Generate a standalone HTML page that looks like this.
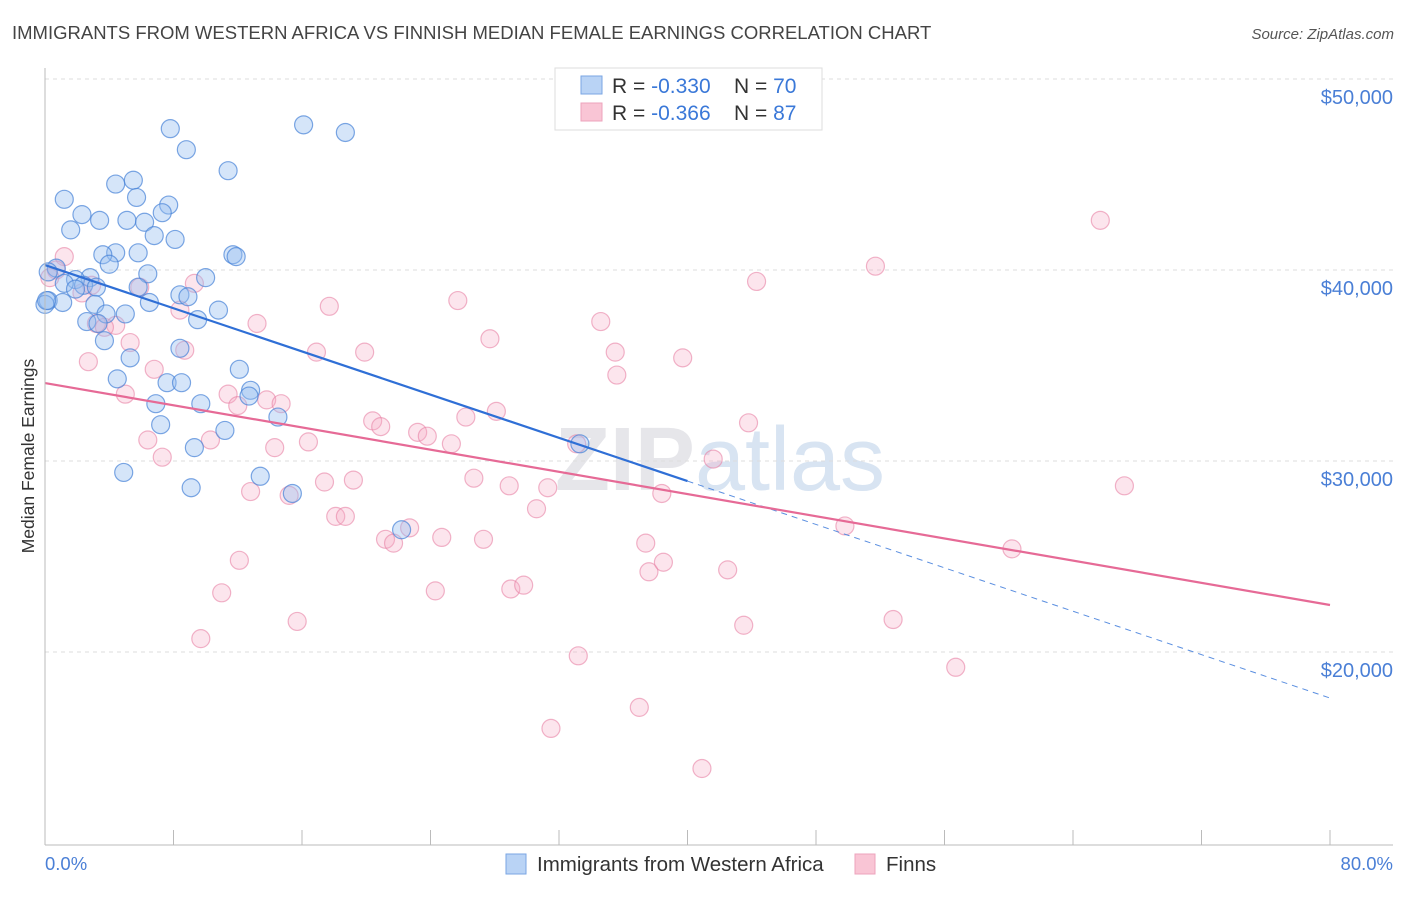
<!DOCTYPE html>
<html><head><meta charset="utf-8"><style>
body{margin:0;background:#fff;font-family:"Liberation Sans",sans-serif;}
svg text{font-family:"Liberation Sans",sans-serif;}
</style></head><body>
<svg id="chart" width="1406" height="892" xmlns="http://www.w3.org/2000/svg">
<text x="12" y="39" font-size="18.5" fill="#444">IMMIGRANTS FROM WESTERN AFRICA VS FINNISH MEDIAN FEMALE EARNINGS CORRELATION CHART</text>
<text x="1394" y="39" font-size="15" fill="#555" text-anchor="end" font-style="italic">Source: ZipAtlas.com</text>
<text x="720" y="490" font-size="90" fill="#e6e6ea" text-anchor="middle" font-weight="bold">ZIP<tspan fill="#d8e4f2" font-weight="normal">atlas</tspan></text>
<g id="grid"></g>
<g id="marks"></g>
<line x1="45" y1="68" x2="45" y2="845" stroke="#bbb"/>
<line x1="45" y1="845" x2="1393" y2="845" stroke="#bbb"/>
<text transform="translate(34,456) rotate(-90)" font-size="17.5" fill="#333" text-anchor="middle">Median Female Earnings</text>
<text x="45" y="870" font-size="18.5" fill="#4a7fd6">0.0%</text>
<text x="1393" y="870" font-size="18.5" fill="#4a7fd6" text-anchor="end">80.0%</text>
<g>
<rect x="555" y="68" width="267" height="62" fill="#fff" stroke="#ddd"/>
<rect x="581" y="76" width="21" height="18" fill="#b9d3f5" stroke="#7aa6e3"/>
<rect x="581" y="103" width="21" height="18" fill="#f9c5d5" stroke="#eda3bc"/>
<text x="612" y="93" font-size="21" fill="#333">R = <tspan fill="#3a78d8">-0.330</tspan><tspan x="734">N = </tspan><tspan fill="#3a78d8">70</tspan></text>
<text x="612" y="120" font-size="21" fill="#333">R = <tspan fill="#3a78d8"> -0.366</tspan><tspan x="734">N = </tspan><tspan fill="#3a78d8"> 87</tspan></text>
</g>
<g>
<rect x="506" y="854" width="20" height="20" fill="#b9d3f5" stroke="#7aa6e3"/>
<text x="537" y="871" font-size="20.5" fill="#333">Immigrants from Western Africa</text>
<rect x="855" y="854" width="20" height="20" fill="#f9c5d5" stroke="#eda3bc"/>
<text x="886" y="871" font-size="20.5" fill="#333">Finns</text>
</g>
</svg>
<script>
const yTicks=[20000,30000,40000,50000];
const yTickLabels=["$20,000","$30,000","$40,000","$50,000"];
const xTicks=[0,8,16,24,32,40,48,56,64,72,80];
const blueX=[7.8,16.1,18.7,8.8,11.4,1.2,4.4,5.5,5.7,7.7,7.3,2.3,3.4,5.1,6.2,1.6,6.8,8.1,4.4,3.6,5.8,11.7,11.9,4.0,0.7,0.2,2.8,6.4,1.9,10.0,1.2,2.4,3.2,5.8,1.9,8.4,8.9,0.2,1.1,6.5,3.1,3.8,5.0,10.8,9.5,2.6,3.3,3.7,5.3,8.4,12.1,4.5,7.6,8.5,12.8,12.7,6.9,9.7,14.5,7.2,11.2,9.3,33.3,4.9,13.4,9.1,15.4,22.2,0.0,0.1];
const blueY=[47.4,47.6,47.2,46.3,45.2,43.7,44.5,44.7,43.8,43.4,43.0,42.9,42.6,42.6,42.5,42.1,41.8,41.6,40.9,40.8,40.9,40.8,40.7,40.3,40.1,39.9,39.6,39.8,39.5,39.6,39.3,39.2,39.1,39.1,39.0,38.7,38.6,38.4,38.3,38.3,38.2,37.7,37.7,37.9,37.4,37.3,37.2,36.3,35.4,35.9,34.8,34.3,34.1,34.1,33.7,33.4,33.0,33.0,32.3,31.9,31.6,30.7,30.9,29.4,29.2,28.6,28.3,26.4,38.2,38.4];
const pinkX=[1.2,0.7,0.3,2.9,2.3,5.9,9.3,8.4,17.7,25.7,13.2,3.2,4.4,3.7,5.3,8.7,16.9,19.9,27.7,34.6,35.5,35.6,39.7,44.3,51.7,65.7,2.7,6.8,5.0,11.4,12.0,13.8,14.7,20.4,20.9,26.2,28.1,23.2,23.8,25.3,33.1,43.8,6.4,10.3,16.4,14.3,7.3,41.6,26.7,17.4,19.2,12.8,15.2,28.9,31.3,38.4,67.2,30.6,18.1,18.7,21.2,21.7,22.7,24.7,27.3,37.4,49.8,60.2,12.1,37.6,38.5,42.5,29.0,29.8,24.3,11.0,15.7,43.5,52.8,9.7,33.2,56.7,37.0,31.5,40.9];
const pinkY=[40.7,40.0,39.6,39.2,38.8,39.1,39.3,37.9,38.1,38.4,37.2,37.2,37.1,37.0,36.2,35.8,35.7,35.7,36.4,37.3,35.7,34.5,35.4,39.4,40.2,42.6,35.2,34.8,33.5,33.5,32.9,33.2,33.0,32.1,31.8,32.3,32.6,31.5,31.3,30.9,30.9,32.0,31.1,31.1,31.0,30.7,30.2,30.1,29.1,28.9,29.0,28.4,28.2,28.7,28.6,28.3,28.7,27.5,27.1,27.1,25.9,25.7,26.5,26.0,25.9,25.7,26.6,25.4,24.8,24.2,24.7,24.3,23.3,23.5,23.2,23.1,21.6,21.4,21.7,20.7,19.8,19.2,17.1,16.0,13.9];
const blueFit=[40.26,28.95,17.59]; // values at x=0,40,80
const pinkFit=[34.08,22.46]; // values at x=0,80
const NS="http://www.w3.org/2000/svg";
const xs=v=>45+v/80*1285;
const ys=v=>270-(v-40000)*0.0191;
const grid=document.getElementById('grid'), marks=document.getElementById('marks');
function mk(tag,attrs,parent){const e=document.createElementNS(NS,tag);for(const k in attrs)e.setAttribute(k,attrs[k]);parent.appendChild(e);return e;}
yTicks.forEach((t,i)=>{
 const l=mk('line',{x1:45,x2:1393,y1:ys(t),y2:ys(t),stroke:'#ddd','stroke-dasharray':'4,4'},grid);
 
 
 const tx=mk('text',{x:1393,y:ys(t)+25,'font-size':20,fill:'#4a7fd6','text-anchor':'end'},grid);
 tx.textContent=yTickLabels[i];
 
 
});
xTicks.forEach(t=>{
 const l=mk('line',{x1:xs(t),x2:xs(t),y1:830,y2:845,stroke:'#bbb'},grid);
 
 
});
pinkX.forEach((x,i)=>{
 const c=mk('circle',{cx:xs(x),cy:ys(pinkY[i]*1000),r:9,fill:'rgba(246,170,196,0.3)',stroke:'rgba(232,130,165,0.6)','stroke-width':1.2},marks);
 
 
});
blueX.forEach((x,i)=>{
 const c=mk('circle',{cx:xs(x),cy:ys(blueY[i]*1000),r:9,fill:'rgba(150,190,240,0.4)',stroke:'rgba(70,130,215,0.7)','stroke-width':1.2},marks);
 
 
});
let l=mk('line',{x1:xs(0),y1:ys(blueFit[0]*1000),x2:xs(40),y2:ys(blueFit[1]*1000),stroke:'#2f6fd6','stroke-width':2.2},marks);


l=mk('line',{x1:xs(40),y1:ys(blueFit[1]*1000),x2:xs(80),y2:ys(blueFit[2]*1000),stroke:'#5b8fe0','stroke-width':1,'stroke-dasharray':'6,5'},marks);


l=mk('line',{x1:xs(0),y1:ys(pinkFit[0]*1000),x2:xs(80),y2:ys(pinkFit[1]*1000),stroke:'#e66a96','stroke-width':2.2},marks);


</script>
</body></html>
